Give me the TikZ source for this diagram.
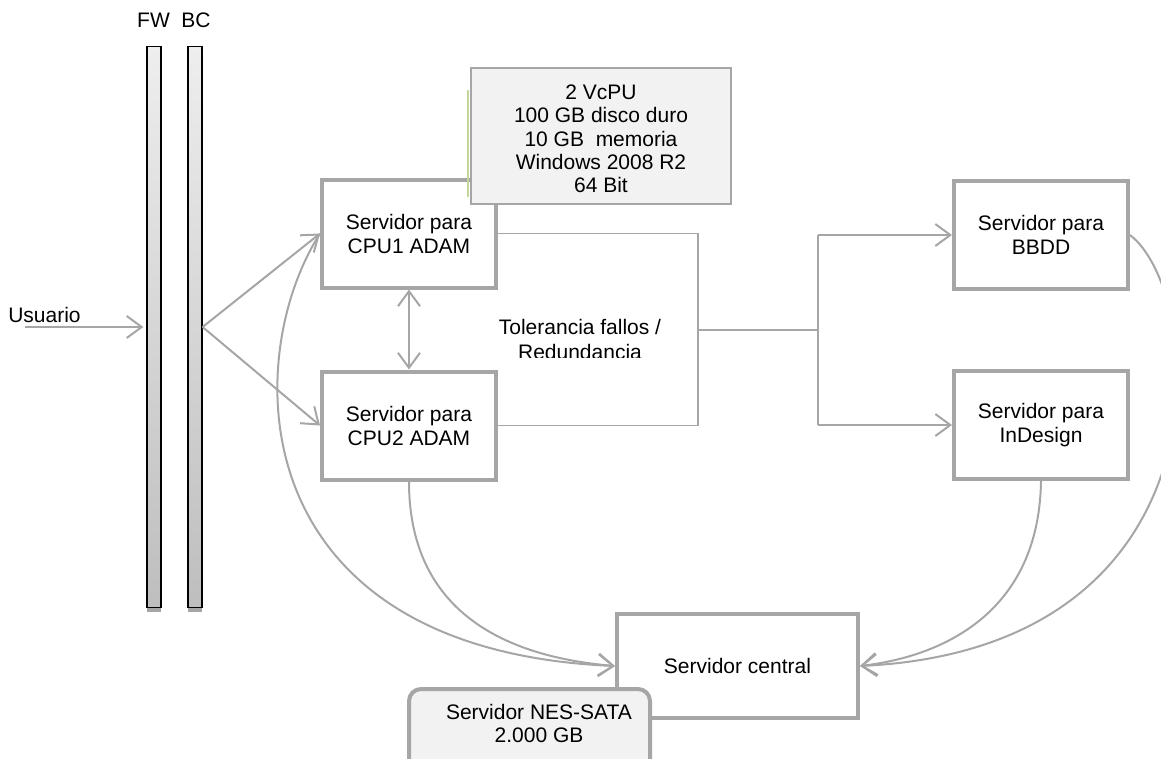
\documentclass[tikz,border=0pt]{standalone}
\usepackage{fontspec}
\setmainfont{Liberation Sans}
\usetikzlibrary{arrows.meta}
\definecolor{lgray}{RGB}{166,166,166}
\definecolor{boxfill}{RGB}{242,242,242}
\definecolor{bartop}{RGB}{238,238,238}
\definecolor{barbot}{RGB}{190,190,190}
\definecolor{shadowgray}{RGB}{165,165,165}
\definecolor{greenedge}{RGB}{195,214,155}
\begin{document}
\begin{tikzpicture}[x=1pt,y=-1pt,
  every node/.style={font=\fontsize{21}{24}\selectfont, inner sep=0pt},
  srv/.style={draw=lgray, line width=4pt, fill=white, minimum width=174pt, minimum height=108pt, align=center},
  bar/.style={draw=black, line width=1.2pt, top color=bartop, bottom color=barbot, minimum width=14pt, minimum height=561pt},
  thinline/.style={draw=lgray, line width=1.5pt},
  tip/.style={-{Straight Barb[length=15pt,width=22pt]}},
  arr/.style={draw=lgray, line width=2pt, tip},
  darr/.style={draw=lgray, line width=2pt, {Straight Barb[length=15pt,width=22pt]}-{Straight Barb[length=15pt,width=22pt]}},
  curve/.style={draw=lgray, line width=2pt, tip},
]
\useasboundingbox (0,0) rectangle (1161,758);
\clip (0,0) rectangle (1161,758);

% firewall bars
\fill[shadowgray] (147,608) rectangle (161,612);
\fill[shadowgray] (188,608) rectangle (202,612);
\node[bar] (fw) at (154,327) {};
\node[bar] (bc) at (195,327) {};
\node (fwl) at (153.5,20) {FW};
\node (bcl) at (196,20) {BC};

% user
\node (usr) at (44.5,314.5) {Usuario};
\coordinate (u0) at (25,327);

% servers
\node[srv] (cpu1) at (409,233.5) {Servidor para\\CPU1 ADAM};
\node[srv] (cpu2) at (409,425.5) {Servidor para\\CPU2 ADAM};
\node[srv] (bbdd) at (1041,235) {Servidor para\\BBDD};
\node[srv] (indesign) at (1041,425) {Servidor para\\InDesign};
\node[srv, minimum width=241pt, minimum height=104pt] (central) at (737.5,666) {Servidor central};

% spec box
\draw[greenedge, line width=2pt] (468,90) -- (468,197);
\node[draw=lgray, line width=1.5pt, fill=boxfill, minimum width=260pt, minimum height=136pt] (spec) at (601,136) {};
\node[align=center, font=\fontsize{21}{23.25}\selectfont] (spectext) at (601,139) {2 VcPU\\100 GB disco duro\\10 GB~ memoria\\Windows 2008 R2\\64 Bit};

% tolerance text (cut at bottom)
\begin{scope}
\clip (480,300) rectangle (690,357);
\node[align=center, font=\fontsize{21}{25}\selectfont] (tol) at (580,339.8) {Tolerancia fallos /\\Redundancia};
\end{scope}

% connectors
\draw[arr, shorten >=3pt] (u0) -- (fw.west);
\draw[arr] (bc.east) -- (cpu1.west);
\draw[arr] (bc.east) -- (cpu2.west);
\draw[darr] (cpu1.south) -- (cpu2.north);

\coordinate (j1) at (698,330);
\coordinate (j2) at (818,330);
\draw[thinline] (cpu1.east) -| (j1) |- (cpu2.east);
\draw[thinline] (j1) -- (j2);
\draw[thinline] (bbdd.west -| j2) -- (indesign.west -| j2);
\draw[arr] (bbdd.west -| j2) -- (bbdd.west);
\draw[arr] (indesign.west -| j2) -- (indesign.west);

% curves to central server
\draw[curve] (cpu1.west) .. controls +(-80,125) and +(-375,-16) .. (central.west);
\draw[curve] (cpu2.south) .. controls +(0,140) and +(-95,-8) .. (central.west);
\draw[curve] (indesign.south) .. controls +(-2,130) and +(85,-10) .. (central.east);
\draw[curve] (bbdd.east) .. controls +(76,58) and +(375,-18) .. (central.east);

% NES-SATA storage
\node[draw=lgray, line width=4pt, fill=boxfill, rounded corners=12pt, minimum width=241pt, minimum height=100pt] (nesbox) at (529.5,739) {};
\node[align=center, font=\fontsize{21}{22.5}\selectfont] (nes) at (539,723.5) {Servidor NES-SATA\\2.000 GB};
\end{tikzpicture}
\end{document}
